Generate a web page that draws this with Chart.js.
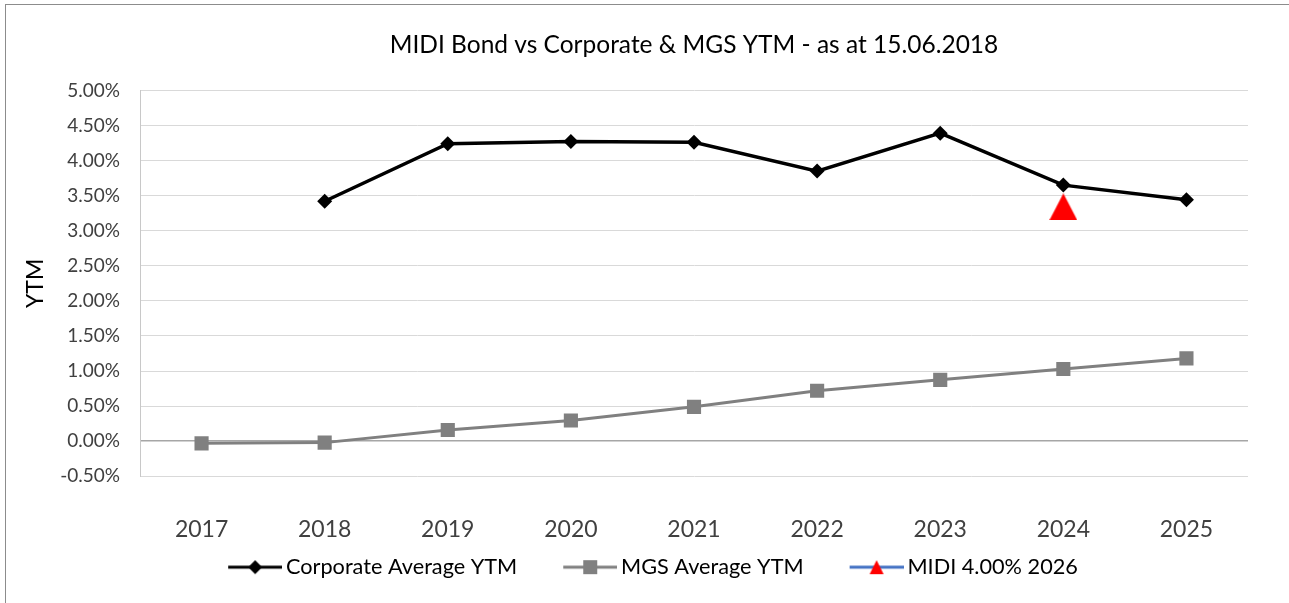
<!DOCTYPE html>
<html>
<head>
<meta charset="utf-8">
<script src="https://cdn.jsdelivr.net/npm/chart.js@4"></script>
<style>
  html, body { margin: 0; padding: 0; background: #fff; overflow: hidden; }
  #frame { position: absolute; left: 5px; top: 4px; width: 1400px; height: 700px; border: 1px solid #8c8c8c; }
  #wrap { position: absolute; left: 0; top: 0; width: 1289px; height: 603px; }
</style>
</head>
<body>
<div id="frame"></div>
<div id="wrap"><canvas id="ytmChart"></canvas></div>
<script>
// data
const years = ["2017", "2018", "2019", "2020", "2021", "2022", "2023", "2024", "2025"];
const corporateYtm = [null, 3.42, 4.24, 4.27, 4.26, 3.85, 4.39, 3.65, 3.44];
const mgsYtm = [-0.03, -0.02, 0.16, 0.295, 0.49, 0.72, 0.875, 1.03, 1.18];
const midiYtm = [null, null, null, null, null, null, null, 3.34, null];
const yMin = -0.5;
const yMax = 5.0;
const yStep = 0.5;

// red triangle marker, centred like Excel's
function triangle(w, h) {
  const c = document.createElement("canvas");
  c.width = w;
  c.height = h;
  const g = c.getContext("2d");
  g.fillStyle = "#ff0000";
  g.beginPath();
  g.moveTo(w / 2, 0);
  g.lineTo(w, h);
  g.lineTo(0, h);
  g.closePath();
  g.fill();
  return c;
}

// legend icon: line with marker, pushed to the right end of a wider canvas
// so the blank left part gives the gap between legend items
const ICON_W = 97;
const ICON_LINE = 54;
function legendIcon(lineColor, drawMarker) {
  const c = document.createElement("canvas");
  c.width = ICON_W;
  c.height = 20;
  const g = c.getContext("2d");
  const x0 = ICON_W - ICON_LINE;
  g.strokeStyle = lineColor;
  g.lineWidth = 3;
  g.beginPath();
  g.moveTo(x0, 10);
  g.lineTo(ICON_W, 10);
  g.stroke();
  drawMarker(g, x0 + ICON_LINE / 2, 10);
  return c;
}

const legendIcons = [
  legendIcon("#000000", function (g, x, y) {
    g.fillStyle = "#000000";
    g.beginPath();
    g.moveTo(x, y - 7);
    g.lineTo(x + 7, y);
    g.lineTo(x, y + 7);
    g.lineTo(x - 7, y);
    g.closePath();
    g.fill();
  }),
  legendIcon("#808080", function (g, x, y) {
    g.fillStyle = "#808080";
    g.fillRect(x - 7, y - 7, 14, 14);
  }),
  legendIcon("#4472c4", function (g, x, y) {
    g.drawImage(triangle(14, 14), x - 7, y - 7);
  }),
];

Chart.defaults.font.family = "Lato, 'Open Sans', sans-serif";
Chart.defaults.color = "#404040";

const ctx = document.getElementById("ytmChart").getContext("2d");
new Chart(ctx, {
  type: "line",
  data: {
    labels: years,
    datasets: [
      {
        label: "Corporate Average YTM",
        data: corporateYtm,
        borderColor: "#000000",
        backgroundColor: "#000000",
        borderWidth: 3.5,
        pointStyle: "rectRot",
        pointRadius: 7.5,
        pointBorderWidth: 0,
        pointBackgroundColor: "#000000",
        tension: 0,
      },
      {
        label: "MGS Average YTM",
        data: mgsYtm,
        borderColor: "#808080",
        backgroundColor: "#808080",
        borderWidth: 3,
        pointStyle: "rect",
        pointRadius: 10,
        pointBorderWidth: 0,
        pointBackgroundColor: "#808080",
        tension: 0,
      },
      {
        label: "MIDI 4.00% 2026",
        data: midiYtm,
        borderColor: "#4472c4",
        backgroundColor: "#ff0000",
        showLine: false,
        pointStyle: triangle(28, 27),
        pointRadius: 14,
      },
    ],
  },
  options: {
    responsive: true,
    maintainAspectRatio: false,
    animation: false,
    layout: {
      padding: { left: 22, right: 41, top: 0, bottom: 15 },
    },
    scales: {
      x: {
        offset: true,
        afterFit: function (scale) {
          scale.height = 70;
        },
        grid: { display: false, drawTicks: false },
        border: { display: false },
        ticks: {
          padding: 39,
          color: "#404040",
          font: { size: 23 },
        },
      },
      y: {
        min: yMin,
        max: yMax,
        afterFit: function (scale) {
          scale.width = 118;
        },
        grid: {
          drawTicks: false,
          color: function (c) {
            return c.tick && c.tick.value === 0 ? "#a6a6a6" : "#d9d9d9";
          },
          lineWidth: function (c) {
            return c.tick && c.tick.value === 0 ? 1.5 : 1;
          },
        },
        border: { display: true, color: "#c8c8c8", width: 1 },
        ticks: {
          stepSize: yStep,
          padding: 20,
          color: "#404040",
          font: { size: 19 },
          callback: function (v) {
            return v.toFixed(2) + "%";
          },
        },
        title: {
          display: true,
          text: "YTM",
          color: "#000000",
          font: { size: 23 },
          padding: { top: 0, bottom: 0 },
        },
      },
    },
    plugins: {
      title: {
        display: true,
        fullSize: false,
        text: "MIDI Bond vs Corporate & MGS YTM - as at 15.06.2018",
        color: "#000000",
        font: { size: 24.5, weight: "normal" },
        padding: { top: 30, bottom: 31 },
      },
      legend: {
        position: "bottom",
        labels: {
          usePointStyle: true,
          pointStyleWidth: 83,
          padding: 10,
          color: "#000000",
          font: { size: 21.7 },
          generateLabels: function (chart) {
            const items = Chart.defaults.plugins.legend.labels.generateLabels(chart);
            items.forEach(function (item, i) {
              item.pointStyle = legendIcons[i];
            });
            return items;
          },
        },
      },
      tooltip: { enabled: false },
    },
  },
});
</script>
</body>
</html>
